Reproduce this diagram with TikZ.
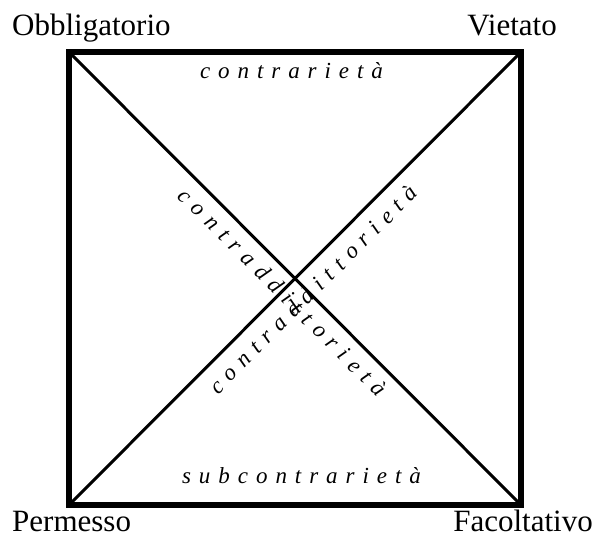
\documentclass[tikz,border=0pt]{standalone}
\usepackage{fontspec}
\setmainfont{Liberation Serif}
\makeatletter
\newcommand\spreadtext[2]{\def\sp@gap{#1}\@tfor\sp@c:=#2\do{\sp@c\hspace{\sp@gap}}\unskip}
\makeatother
\tikzset{
  cornerlabel/.style={inner sep=0pt,font=\fontsize{31}{36}\selectfont},
  relabel/.style={inner sep=0pt,font=\fontsize{23}{27}\selectfont\itshape},
  frame/.style={line width=5.5pt,line join=miter},
  diag/.style={line width=3pt}
}
\begin{document}
\begin{tikzpicture}[x=1pt,y=-1pt]
\useasboundingbox (0,0) rectangle (596,535);
\coordinate (O) at (69,52);
\coordinate (V) at (521,52);
\coordinate (F) at (521,505);
\coordinate (P) at (69,505);
\draw[frame] (O) -- (V) -- (F) -- (P) -- cycle;
\draw[diag] (O) -- (F);
\draw[diag] (P) -- (V);
\node[cornerlabel,anchor=base west] (lo) at (12,36) {Obbligatorio};
\node[cornerlabel,anchor=base east] (lv) at (557,36) {Vietato};
\node[cornerlabel,anchor=base west] (lp) at (12,531) {Permesso};
\node[cornerlabel,anchor=base east] (lf) at (593,531) {Facoltativo};
\node[relabel,anchor=base] (top) at (291.5,78) {\spreadtext{7.95pt}{contrarietà}};
\node[relabel,anchor=base] (bot) at (301.5,483) {\spreadtext{7.95pt}{subcontrarietà}};
\node[relabel,rotate=-45] (d1) at (283,292) {\spreadtext{7.95pt}{contraddittorietà}};
\node[relabel,rotate=45] (d2) at (313,289) {\spreadtext{7.95pt}{contraddittorietà}};
\end{tikzpicture}
\end{document}
